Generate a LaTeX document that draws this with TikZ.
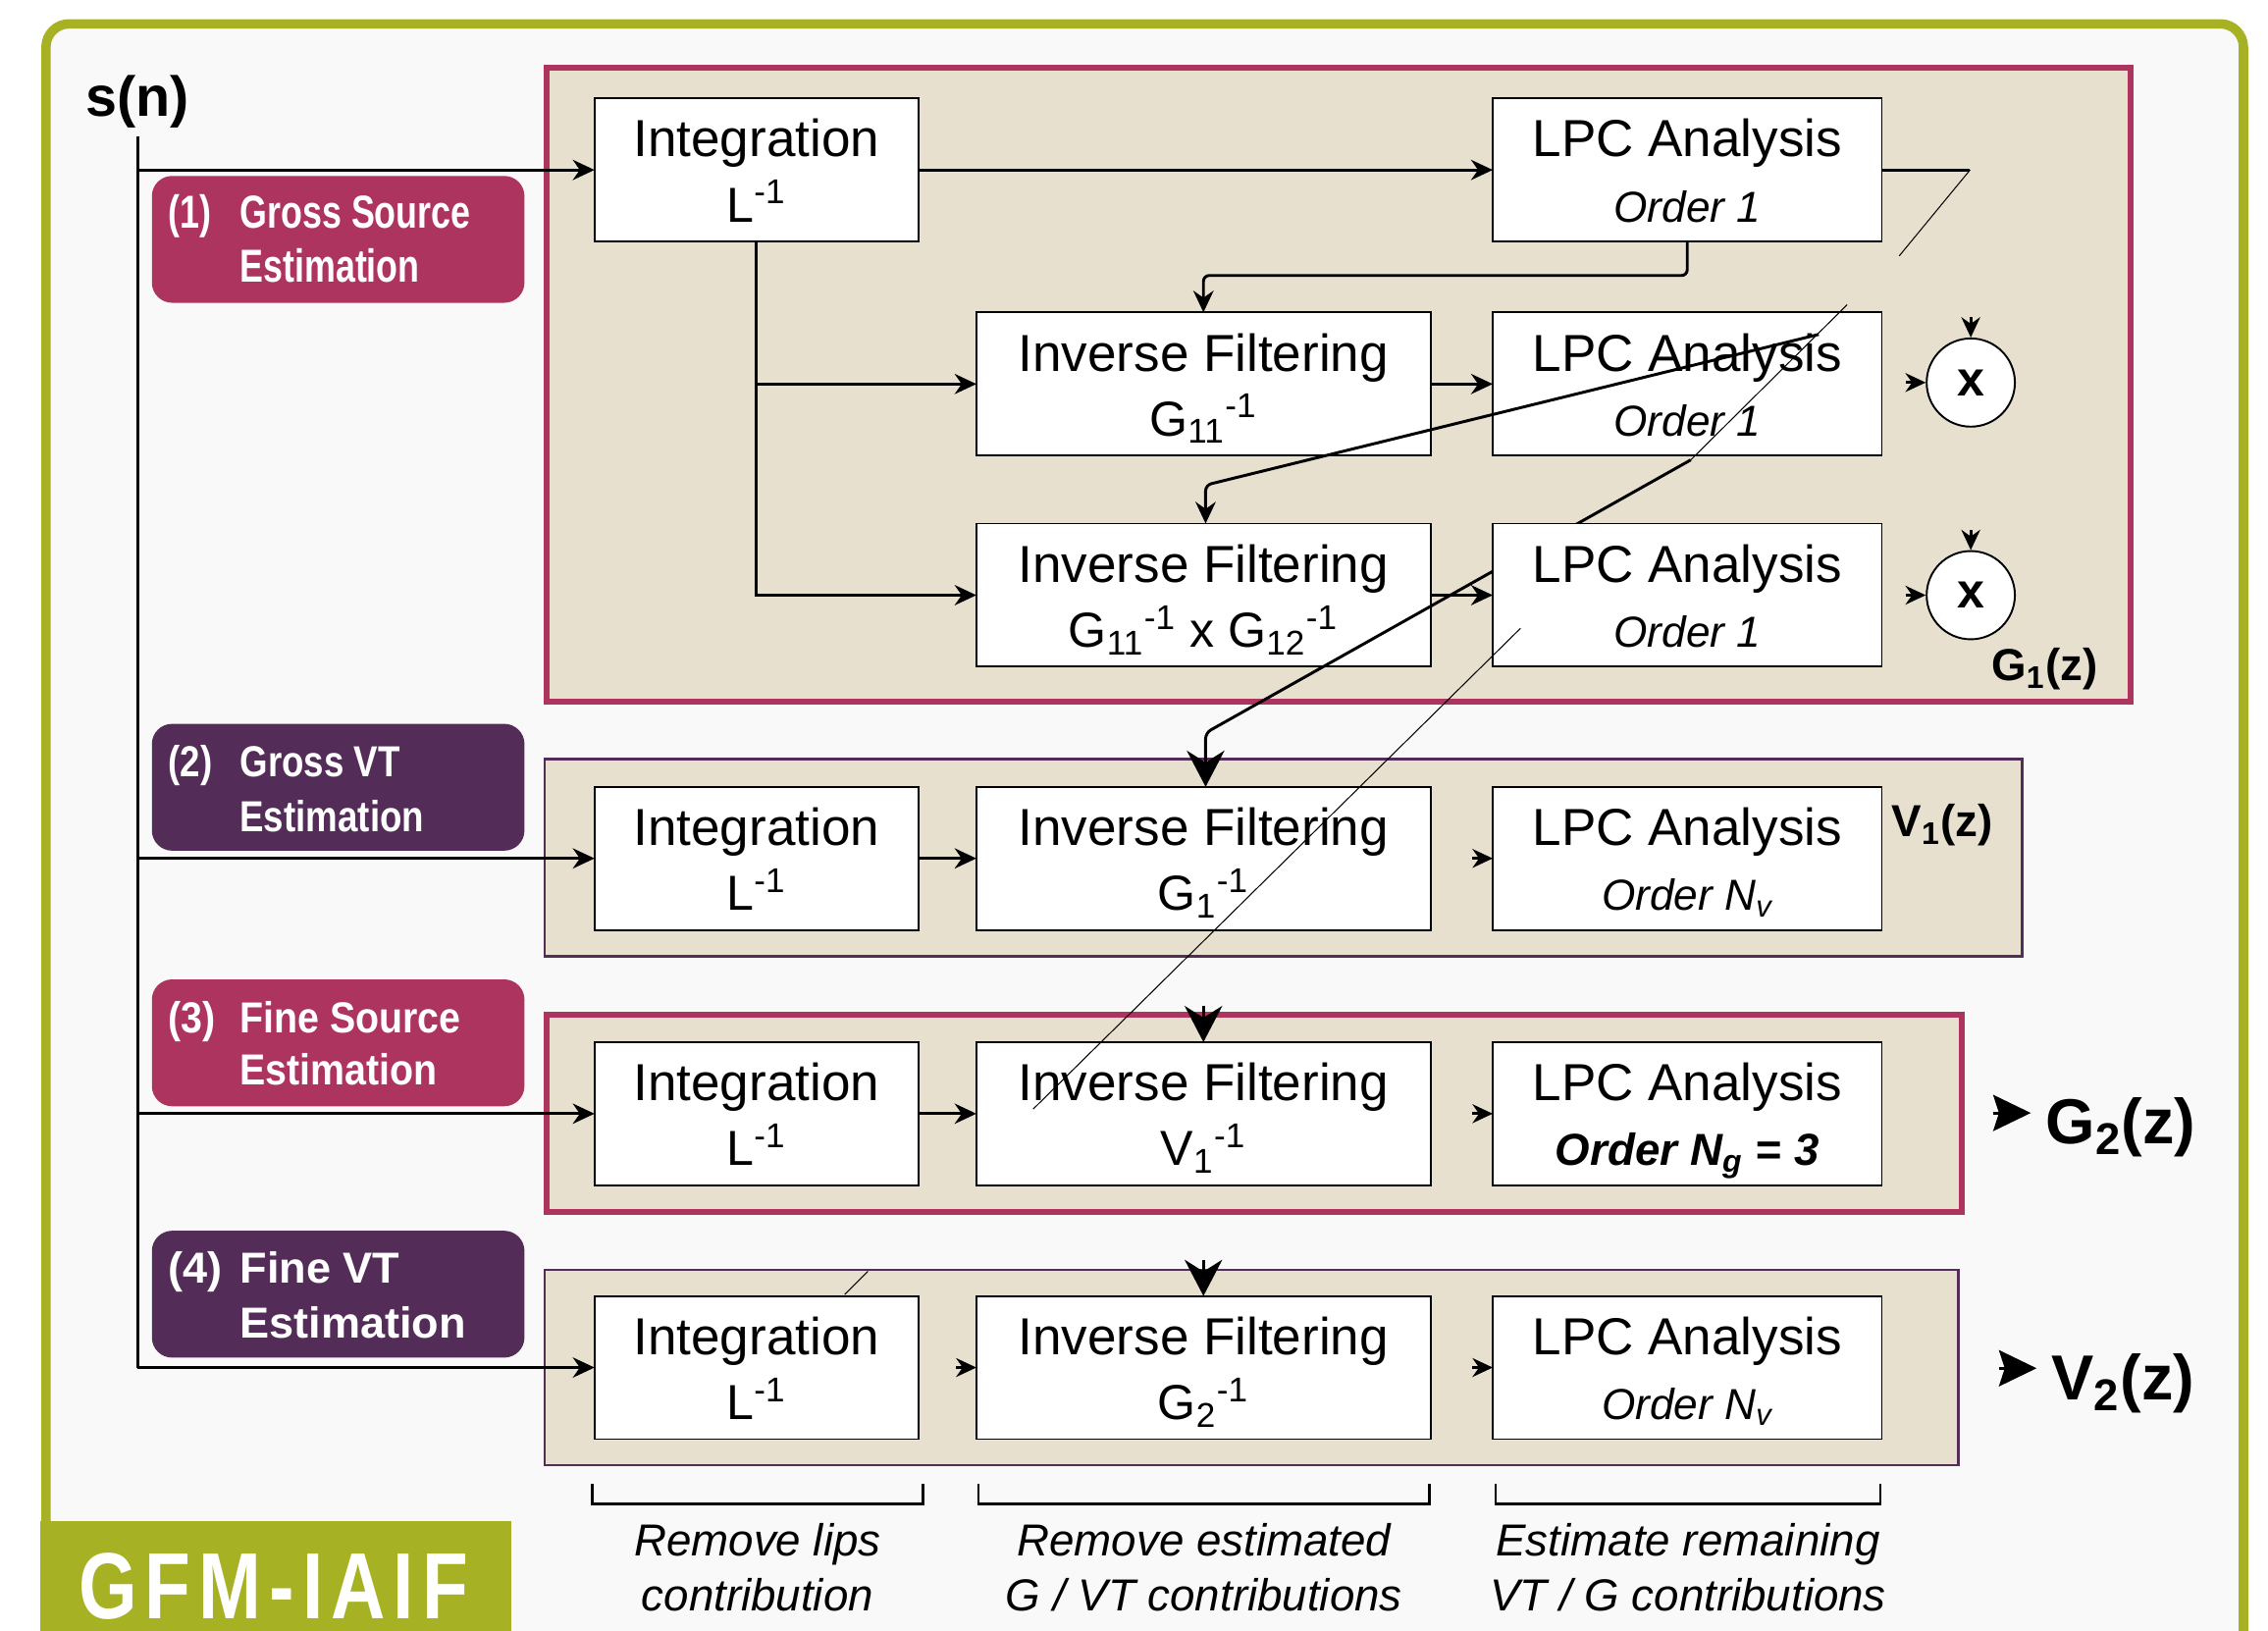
\documentclass[tikz,border=0pt]{standalone}
\usepackage{fontspec}
\setmainfont{Liberation Sans}
\newfontfamily\labAfont{Liberation Sans}[FakeStretch=0.76]
\newfontfamily\labBfont{Liberation Sans}[FakeStretch=0.83]
\newfontfamily\labCfont{Liberation Sans}[FakeStretch=0.89]
\newfontfamily\labDfont{Liberation Sans}[FakeStretch=1.02]
\newfontfamily\gfmfont{Liberation Sans}[FakeStretch=0.8,LetterSpace=8.4]
\usetikzlibrary{arrows.meta}
\definecolor{crim}{RGB}{174,52,96}
\definecolor{purp}{RGB}{83,45,88}
\definecolor{beige}{RGB}{231,224,207}
\definecolor{olive}{RGB}{166,178,36}
\definecolor{bgray}{RGB}{249,249,249}
\tikzset{
  blk/.style={draw=black, line width=0.65pt, fill=white, inner sep=0pt, outer sep=0pt, minimum height=49.5pt},
  intb/.style={blk, minimum width=112pt},
  invb/.style={blk, minimum width=157pt},
  lpcb/.style={blk, minimum width=134.5pt},
  lineone/.style={anchor=base, inner sep=0pt, font=\fontsize{18}{21}\selectfont},
  formula/.style={anchor=base, inner sep=0pt, font=\fontsize{17}{20}\selectfont},
  order/.style={anchor=base, inner sep=0pt, font=\fontsize{15}{18}\selectfont\itshape},
  orderbold/.style={anchor=base, inner sep=0pt, font=\fontsize{15.5}{18}\selectfont\bfseries\itshape},
  conn/.style={line width=1pt, draw=black},
  arr/.style={conn, -{Stealth[length=7.5pt,width=7pt]}},
  bigarr/.style={conn, -{Stealth[length=12.5pt,width=13pt]}},
  tiptip/.style={conn, -{Stealth[length=7pt,width=6.5pt]}},
  outtip/.style={conn, -{Stealth[length=13pt,width=12.5pt,inset=2pt]}},
  stray/.style={line width=0.35pt, draw=black},
  labbox/.style={rounded corners=7pt, inner sep=0pt, outer sep=0pt, minimum width=128.8pt, minimum height=43.85pt},
  labtxt/.style={anchor=base west, inner sep=0pt, text=white},
  secthick/.style={draw=crim, line width=2pt, fill=beige},
  secthin/.style={draw=purp, line width=0.9pt, fill=beige},
  outlbl/.style={anchor=base west, inner sep=0pt},
  note/.style={anchor=base, inner sep=0pt, font=\fontsize{15.5}{18}\selectfont\itshape},
  brk/.style={line width=0.9pt, draw=black},
  mult/.style={circle, draw=black, line width=0.65pt, fill=white, minimum size=30.5pt, inner sep=0pt, font=\bfseries\fontsize{17}{20}\selectfont},
}
\newcommand\boxlines[4]{%
  \node[lineone] (#1-l1) at ([yshift=-20.25pt]#1.north) {#2};
  \node[#3] (#1-l2) at ([yshift=-42.75pt]#1.north) {#4};}
\begin{document}
\begin{tikzpicture}[x=0.5pt,y=-0.5pt]
\useasboundingbox (0,0) rectangle (1568,1127);
\clip (0,0) rectangle (1568,1127);
\fill[white] (0,0) rectangle (1568,1127);
% outer frame
\draw[draw=olive, line width=3.25pt, fill=bgray, rounded corners=8pt] (31.8,16.5) rectangle (1551,1220);
\fill[olive] (28,1052) rectangle (353.6,1160);
\node[anchor=base west, inner sep=0pt, text=white, font=\gfmfont\bfseries\fontsize{32.5}{36}\selectfont] (gfm) at (54,1119.5) {GFM-IAIF};
% sections
\draw[secthick] (378,47) rectangle (1473,485);
\draw[secthin] (376.5,525) rectangle (1398,661);
\draw[secthick] (378,701.6) rectangle (1356,838);
\draw[secthin] (376.5,878) rectangle (1354,1013);
% step labels
\node[labbox, fill=crim] (lab1) at (233.8,165.5) {};
\node[labbox, fill=purp] (lab2) at (233.8,544.3) {};
\node[labbox, fill=crim] (lab3) at (233.8,721) {};
\node[labbox, fill=purp] (lab4) at (233.8,894.8) {};
\tikzset{la/.style={labtxt, font=\labAfont\bfseries\fontsize{16}{19}\selectfont},
         lb/.style={labtxt, font=\labBfont\bfseries\fontsize{15}{18}\selectfont},
         lc/.style={labtxt, font=\labCfont\bfseries\fontsize{15}{18}\selectfont},
         ld/.style={labtxt, font=\labDfont\bfseries\fontsize{15}{18}\selectfont}}
\node[la] (lab1n) at (116,158) {(1)};
\node[la] (lab1a) at (165.5,158) {Gross Source};
\node[la] (lab1b) at (165.5,195.4) {Estimation};
\node[lb] (lab2n) at (116,537) {(2)};
\node[lb] (lab2a) at (165.5,537) {Gross VT};
\node[lb] (lab2b) at (165.5,574.7) {Estimation};
\node[lc] (lab3n) at (116,713.8) {(3)};
\node[lc] (lab3a) at (165.5,713.8) {Fine Source};
\node[lc] (lab3b) at (165.5,750.2) {Estimation};
\node[ld] (lab4n) at (116,887.4) {(4)};
\node[ld] (lab4a) at (165.5,887.4) {Fine VT};
\node[ld] (lab4b) at (165.5,924.8) {Estimation};
% input
\node[anchor=base, inner sep=0pt, font=\bfseries\fontsize{19.5}{22}\selectfont] (sn) at (95.3,80.5) {s(n)};
\coordinate (sp0) at (95.3,94);
\coordinate (sp1) at (95.3,117.5);
\coordinate (sp2) at (95.3,593.5);
\coordinate (sp3) at (95.3,770);
\coordinate (sp4) at (95.3,945.5);
\draw[conn] (sp0) -- (sp4);
% boxes section 1
\node[intb] (intA) at (523,117.5) {};
\node[lpcb] (lpcA) at (1166.5,117.5) {};
\node[invb] (invB) at (832,265.5) {};
\node[lpcb] (lpcB) at (1166.5,265.5) {};
\node[invb] (invC) at (832,411.5) {};
% boxes sections 2-4
\node[intb] (int2) at (523,593.5) {};
\node[invb] (inv2) at (832,593.5) {};
\node[lpcb] (lpc2) at (1166.5,593.5) {};
\node[intb] (int3) at (523,770) {};
\node[invb] (inv3) at (832,770) {};
\node[lpcb] (lpc3) at (1166.5,770) {};
\node[intb] (int4) at (523,945.5) {};
\node[invb] (inv4) at (832,945.5) {};
\node[lpcb] (lpc4) at (1166.5,945.5) {};
\boxlines{intA}{Integration}{formula}{L\textsuperscript{-1}}
\boxlines{lpcA}{LPC Analysis}{order}{Order 1}
\boxlines{invB}{Inverse Filtering}{formula}{G\textsubscript{11}\textsuperscript{-1}}
\boxlines{lpcB}{LPC Analysis}{order}{Order 1}
\boxlines{invC}{Inverse Filtering}{formula}{G\textsubscript{11}\textsuperscript{-1} x G\textsubscript{12}\textsuperscript{-1}}
\boxlines{int2}{Integration}{formula}{L\textsuperscript{-1}}
\boxlines{inv2}{Inverse Filtering}{formula}{G\textsubscript{1}\textsuperscript{-1}}
\boxlines{lpc2}{LPC Analysis}{order}{Order N\textsubscript{v}}
\boxlines{int3}{Integration}{formula}{L\textsuperscript{-1}}
\boxlines{inv3}{Inverse Filtering}{formula}{V\textsubscript{1}\textsuperscript{-1}}
\boxlines{lpc3}{LPC Analysis}{orderbold}{Order N\textsubscript{g} = 3}
\boxlines{int4}{Integration}{formula}{L\textsuperscript{-1}}
\boxlines{inv4}{Inverse Filtering}{formula}{G\textsubscript{2}\textsuperscript{-1}}
\boxlines{lpc4}{LPC Analysis}{order}{Order N\textsubscript{v}}
% line passing under the third LPC box
\coordinate (t2a) at (1277,210.7);
\coordinate (t2b) at (1168.9,318);
\coordinate (t2c) at (833.5,506.7);
\draw[bigarr, rounded corners=2pt] (t2b) -- (t2c) -- (t2c |- inv2.north);
\node[lpcb] (lpcC) at (1166.5,411.5) {};
\boxlines{lpcC}{LPC Analysis}{order}{Order 1}
% multipliers
\node[mult] (mul1) at (1362.5,264.5) {x};
\node[mult] (mul2) at (1362.5,411.5) {x};
\draw[tiptip] ([xshift=-7pt]mul1.west) -- (mul1.west);
\draw[tiptip] ([yshift=7pt]mul1.north) -- (mul1.north);
\draw[tiptip] ([xshift=-7pt]mul2.west) -- (mul2.west);
\draw[tiptip] ([yshift=7pt]mul2.north) -- (mul2.north);
% input arrows
\draw[arr] (sp1) -- (intA.west);
\draw[arr] (sp2) -- (int2.west);
\draw[arr] (sp3) -- (int3.west);
\draw[arr] (sp4) -- (int4.west);
% section 1 connectors
\draw[arr] (intA.east) -- (lpcA.west);
\coordinate (ka) at (1362,117.5);
\coordinate (kb) at (1313,177);
\draw[conn] (lpcA.east) -- (ka);
\draw[stray] (ka) -- (kb);
\draw[arr, rounded corners=2pt] (lpcA.south) -- ++(0,23.5) -| (invB.north);
\draw[arr] (intA.south) |- (invB.west);
\draw[arr] (intA.south) |- (invC.west);
\draw[arr] (invB.east) -- (lpcB.west);
\draw[arr] (invC.east) -- (lpcC.west);
\coordinate (k1) at (1257.4,231.2);
\coordinate (k1b) at (833.5,335.4);
\draw[arr, rounded corners=2pt] (k1) -- (k1b) -- (k1b |- invC.north);
\draw[stray] (t2a) -- (t2b);
% sections 2-4 connectors
\draw[arr] (int2.east) -- (inv2.west);
\draw[tiptip] ([xshift=-7pt]lpc2.west) -- (lpc2.west);
\draw[arr] (int3.east) -- (inv3.west);
\draw[bigarr] ([yshift=12.5pt]inv3.north) -- (inv3.north);
\draw[tiptip] ([xshift=-7pt]lpc3.west) -- (lpc3.west);
\draw[tiptip] ([xshift=-7pt]inv4.west) -- (inv4.west);
\draw[bigarr] ([yshift=12.5pt]inv4.north) -- (inv4.north);
\draw[tiptip] ([xshift=-7pt]lpc4.west) -- (lpc4.west);
% stray lines
\coordinate (t3a) at (1051.2,434.4);
\coordinate (t3b) at (714.3,766.8);
\draw[stray] (t3a) -- (t3b);
\coordinate (t4a) at (600,879);
\coordinate (t4b) at (584,895);
\draw[stray] (t4a) -- (t4b);
% outputs
\node[outlbl, font=\bfseries\fontsize{15.5}{18}\selectfont] (g1out) at (1376.5,470.7) {G\textsubscript{1}(z)};
\node[outlbl, font=\bfseries\fontsize{15.5}{18}\selectfont] (v1out) at (1307.5,578.7) {V\textsubscript{1}(z)};
\node[outlbl, font=\bfseries\fontsize{22}{25}\selectfont] (g2out) at (1414,791) {G\textsubscript{2}(z)};
\node[outlbl, font=\bfseries\fontsize{22}{25}\selectfont] (v2out) at (1418,968) {V\textsubscript{2}(z)};
\coordinate (g2t) at (1378,769.5);
\coordinate (v2t) at (1382,946);
\draw[outtip] (g2t) -- ++(26,0);
\draw[outtip] (v2t) -- ++(26,0);
% brackets
\draw[brk] (409.5,1025.7) -- (409.5,1040) -- (638,1040) -- (638,1025.7);
\draw[brk] (676.5,1025.7) -- (676.5,1040) -- (988.3,1040) -- (988.3,1025.7);
\draw[brk] (1034,1025.7) -- (1034,1040) -- (1300,1040) -- (1300,1025.7);
\node[note] (n1a) at (523.7,1076) {Remove lips};
\node[note] (n1b) at (523.7,1114) {contribution};
\node[note] (n2a) at (832.4,1076) {Remove estimated};
\node[note] (n2b) at (832.4,1114) {G / VT contributions};
\node[note] (n3a) at (1167,1076) {Estimate remaining};
\node[note] (n3b) at (1167,1114) {VT / G contributions};
\end{tikzpicture}
\end{document}
